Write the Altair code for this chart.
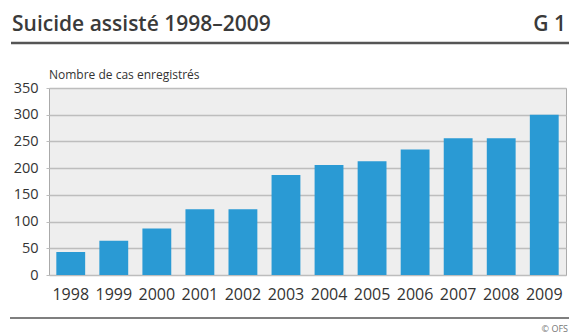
import altair as alt
import pandas as pd

years = ["1998", "1999", "2000", "2001", "2002", "2003", "2004", "2005", "2006", "2007", "2008", "2009"]
cases = [43, 64, 87, 123, 123, 187, 206, 213, 235, 256, 256, 300]
y_ticks = [0, 50, 100, 150, 200, 250, 300, 350]

title_text = "Suicide assisté 1998–2009"
code_text = "G 1"
ylabel_text = "Nombre de cas enregistrés"
source_text = "© OFS"

W, H = 517, 187
FONT = "Open Sans"

df = pd.DataFrame({"year": years, "cases": cases})

bars = alt.Chart(df).mark_bar(color="#2a9ad4").encode(
    x=alt.X("year:N", title=None, sort=years,
            scale=alt.Scale(paddingInner=0.33, paddingOuter=0.17),
            axis=alt.Axis(labelAngle=0, ticks=False, domain=False, labelPadding=11,
                          labelFontSize=16, labelColor="#333333", labelFont=FONT)),
    y=alt.Y("cases:Q", title=None,
            scale=alt.Scale(domain=[0, 350], nice=False),
            axis=alt.Axis(values=y_ticks, gridColor="#bdbdbd", gridWidth=1.3, domain=False,
                          tickColor="#bdbdbd", tickSize=3, labelPadding=8,
                          labelFontSize=14.5, labelColor="#333333", labelFont=FONT)),
)

one = pd.DataFrame({"k": [0]})

def txt(text, x, y, size, align="left", weight="normal", color="#333333", baseline="alphabetic"):
    return alt.Chart(one).mark_text(text=text, align=align, baseline=baseline, fontSize=size,
                                    fontWeight=weight, color=color, font=FONT).encode(
        x=alt.value(x), y=alt.value(y))

title = txt(title_text, -37, -57, 21, weight=600, color="#3a3a3a")
code = txt(code_text, 517, -57, 21, align="right", weight=600, color="#3a3a3a")
ylab = txt(ylabel_text, 0, -9, 12)
src = txt(source_text, 519, 244, 9, align="right", color="#777777")

top_rule = alt.Chart(one).mark_rule(color="#555555", strokeWidth=2.5).encode(
    x=alt.value(-38), x2=alt.value(520), y=alt.value(-45))
bot_rule = alt.Chart(one).mark_rule(color="#555555", strokeWidth=1.5).encode(
    x=alt.value(-39), x2=alt.value(520), y=alt.value(230))

chart = alt.layer(bars, top_rule, bot_rule, title, code, ylab, src).properties(
    width=W, height=H,
    autosize=alt.AutoSizeParams(type="none"),
    padding={"left": 49, "top": 88, "right": 3, "bottom": 59},
    background="white",
).configure_view(fill="#eeeeee", stroke="#aaaaaa", strokeWidth=1)

chart.save("out.html", embed_options={"renderer": "svg", "actions": False})
